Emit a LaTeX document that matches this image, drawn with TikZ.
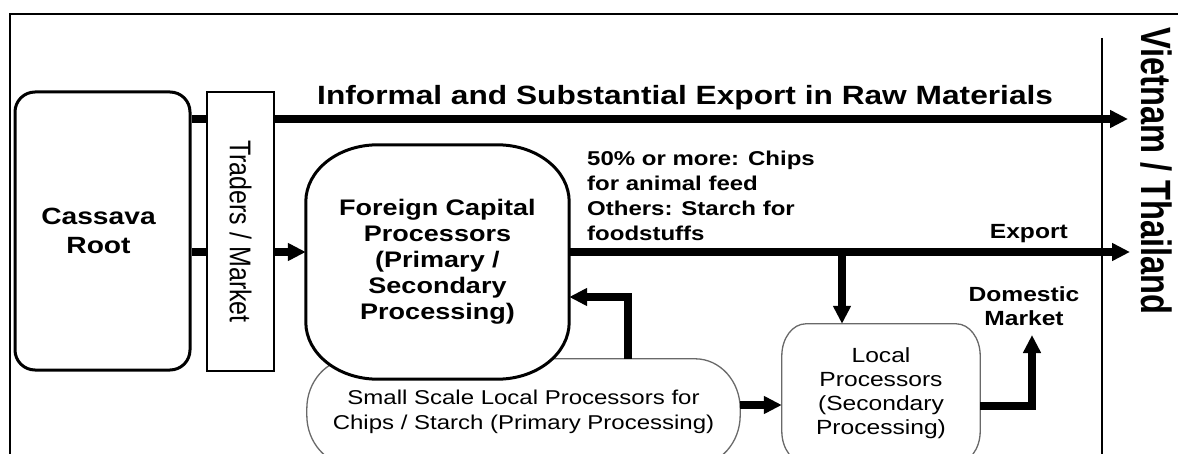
\documentclass[tikz,border=0pt]{standalone}
\usepackage{graphicx}
\usepackage{fontspec}
\setmainfont{Liberation Sans}
\newfontfamily\widefont[FakeStretch=1.2]{Liberation Sans}
\usetikzlibrary{arrows.meta,calc}
\pgfdeclarelayer{back}
\pgfsetlayers{back,main}
\definecolor{softgray}{RGB}{105,105,105}

\tikzset{
  flow/.style={line width=7.5pt, -{Triangle[length=18pt,width=17pt]}},
  solidbox/.style={draw=black, line width=3pt, fill=white},
  softbox/.style={draw=softgray, line width=1.3pt, fill=white},
  txt/.style={inner sep=0pt, align=center},
}

% rounded frame with elliptical corners around a node (#2), radii #3 / #4
\newcommand\ovalframe[4]{%
  \path[#1] let \p1=(#2.north west), \p2=(#2.south east) in
    ({\x2-#3},\y1) .. controls ({\x2-0.4477*#3},\y1) and (\x2,{\y1-0.4477*#4}) .. (\x2,{\y1-#4})
    -- (\x2,{\y2+#4}) .. controls (\x2,{\y2+0.4477*#4}) and ({\x2-0.4477*#3},\y2) .. ({\x2-#3},\y2)
    -- ({\x1+#3},\y2) .. controls ({\x1+0.4477*#3},\y2) and (\x1,{\y2+0.4477*#4}) .. (\x1,{\y2+#4})
    -- (\x1,{\y1-#4}) .. controls (\x1,{\y1-0.4477*#4}) and ({\x1+0.4477*#3},\y1) .. ({\x1+#3},\y1)
    -- cycle;}

\begin{document}
\begin{tikzpicture}[x=1pt,y=-1pt]
\useasboundingbox (0,0) rectangle (1178,454);
\clip (0,0) rectangle (1178,454);

% outer frame and country border
\draw[line width=2pt] (9.5,454) -- (9.5,14) -- (1178,14);
\draw[line width=1.6pt] (1102,38) -- (1102,454);

% routing helpers
\coordinate (highY) at (0,119);
\coordinate (lowY) at (0,252);
\coordinate (retY) at (0,297);
\coordinate (midY) at (0,405);
\coordinate (sideY) at (0,406);
\coordinate (upX) at (628,0);
\coordinate (dropX) at (842,0);
\coordinate (domX) at (1032,0);
\coordinate (rawTip) at (1128,119);
\coordinate (expTip) at (1130,252);
\coordinate (domTip) at (1032,335);

% boxes
\node[solidbox, rounded corners=20pt, minimum width=175pt, minimum height=278pt, txt,
      font=\widefont\bfseries\fontsize{23.5}{29}\selectfont] (root) at (102.5,231)
      {\hspace*{-8pt}Cassava\\\hspace*{-8pt}Root};

\node[solidbox, line width=2.6pt, rotate=-90, minimum width=279pt, minimum height=67pt, txt,
      font=\fontsize{25}{30}\selectfont] (trade) at (240.5,231.5) {\scalebox{1}[1.2]{Traders / Market}};

\node[minimum width=263pt, minimum height=234pt, txt,
      font=\widefont\bfseries\fontsize{22.5}{26}\selectfont] (fcp) at (437.5,262)
      {Foreign Capital\\Processors\\(Primary /\\Secondary\\Processing)};

\node[minimum width=433pt, minimum height=106pt, txt,
      font=\widefont\fontsize{20}{25}\selectfont] (small) at (523.5,412)
      {Small Scale Local Processors for\\Chips / Starch (Primary Processing)};

\node[minimum width=198pt, minimum height=139pt, txt,
      font=\widefont\fontsize{20.5}{24}\selectfont] (local) at (881,393.5)
      {Local\\Processors\\(Secondary\\Processing)};

% labels
\node[txt, anchor=base west, font=\widefont\bfseries\fontsize{26.4}{32}\selectfont] (raw) at (317,105)
      {Informal and Substantial Export in Raw Materials};
\node[txt, anchor=north west, align=left, font=\widefont\bfseries\fontsize{20}{25}\selectfont] (note) at (587,150.4)
      {50\% or more: Chips\\for animal feed\\Others: Starch for\\foodstuffs};
\node[txt, anchor=base east, font=\widefont\bfseries\fontsize{20.5}{24}\selectfont] (exp) at (1068,239) {Export};
\node[txt, anchor=north, font=\widefont\bfseries\fontsize{20.5}{24}\selectfont] (dom) at (1024,286) {Domestic\\Market};
\node[txt, rotate=-90, font=\bfseries\fontsize{32.6}{36}\selectfont] (vt) at (1156,171)
      {\scalebox{1}[1.3]{Vietnam / Thailand}};

\begin{pgfonlayer}{back}
  \ovalframe{softbox}{small}{45pt}{50pt}
  \ovalframe{solidbox}{fcp}{72pt}{57pt}
  \ovalframe{softbox}{local}{24pt}{32pt}

  \draw[flow] (root.east |- highY) -- (rawTip);
  \draw[flow] (root.east |- lowY) -- (fcp.west |- lowY);
  \draw[flow] (fcp.east |- lowY) -- (expTip);
  \draw[flow] (dropX |- lowY) -- (dropX |- local.north);
  \draw[flow] (small.north -| upX) -- (upX |- retY) -- (fcp.east |- retY);
  \draw[flow] (small.east |- midY) -- (local.west |- midY);
  \draw[flow] (local.east |- sideY) -- (domX |- sideY) -- (domTip);
\end{pgfonlayer}
\end{tikzpicture}
\end{document}
